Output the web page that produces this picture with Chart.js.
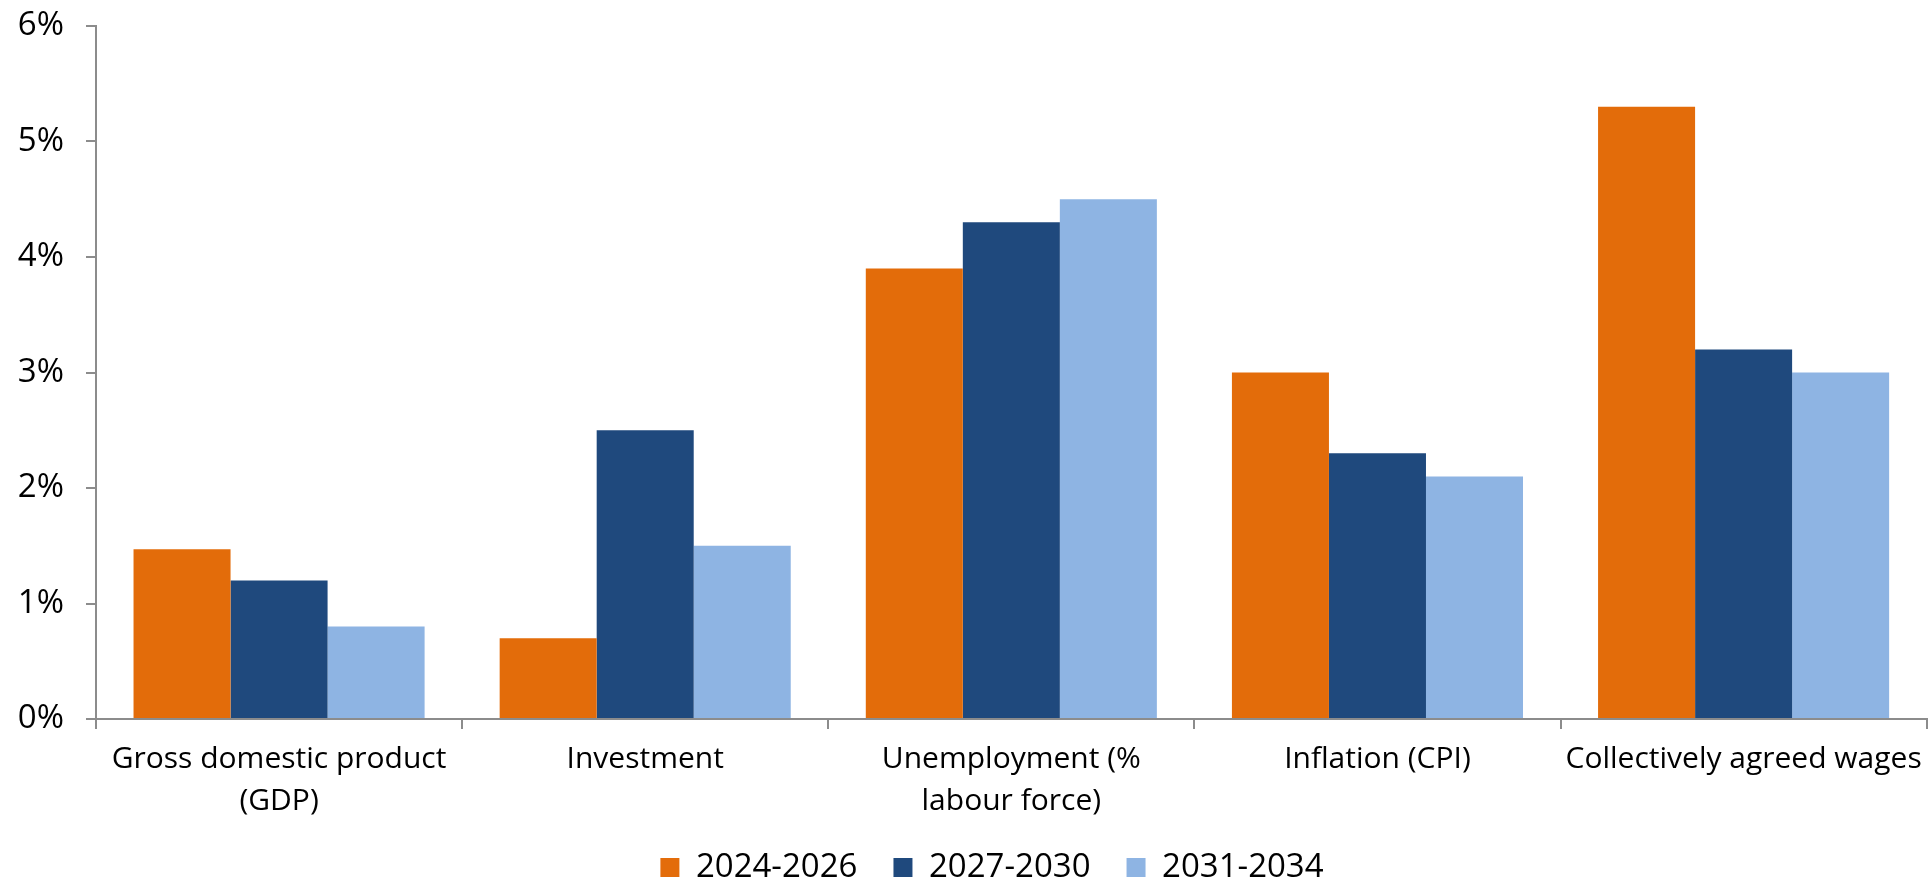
<!DOCTYPE html>
<html>
<head>
<meta charset="utf-8">
<script src="https://cdn.jsdelivr.net/npm/chart.js@4.4.1/dist/chart.umd.min.js"></script>
<style>
  html, body { margin: 0; padding: 0; background: #fff; }
  #wrap { width: 1931px; height: 881px; }
</style>
</head>
<body>
<div id="wrap"><canvas id="forecastChart" width="1931" height="881"></canvas></div>
<script>
const categories = [
  ['Gross domestic product', '(GDP)'],
  'Investment',
  ['Unemployment (%', 'labour force)'],
  'Inflation (CPI)',
  'Collectively agreed wages'
];
const seriesNames = ['2024-2026', '2027-2030', '2031-2034'];
const values2024 = [1.47, 0.7, 3.9, 3.0, 5.3];
const values2027 = [1.2, 2.5, 4.3, 2.3, 3.2];
const values2031 = [0.8, 1.5, 4.5, 2.1, 3.0];
const yTicks = [0, 1, 2, 3, 4, 5, 6];

const colors = ['#E36C0A', '#1F497D', '#8EB4E3'];
const axisColor = '#8c8c8c';
const fontFamily = '"Open Sans", "Noto Sans", sans-serif';

Chart.defaults.font.family = fontFamily;
Chart.defaults.color = '#000';

// legend sits low, just under the category labels
const legendPlacement = {
  id: 'legendPlacement',
  beforeInit(chart) {
    const origFit = chart.legend.fit;
    chart.legend.fit = function () {
      origFit.call(this);
      this.height = 57;
    };
  },
  afterLayout(chart) {
    const lg = chart.legend;
    lg.top -= 9;
    lg.left += 28;
    lg.right += 28;
  },
};

function drawChart() {
  const ctx = document.getElementById('forecastChart').getContext('2d');

  const chart = new Chart(ctx, {
    type: 'bar',
    data: {
      labels: categories,
      datasets: [values2024, values2027, values2031].map((vals, i) => ({
        label: seriesNames[i],
        data: vals,
        backgroundColor: colors[i],
        borderWidth: 0,
        barPercentage: 1.0,
        categoryPercentage: 0.795,
      })),
    },
    options: {
      responsive: false,
      animation: false,
      layout: {
        padding: { top: 0, right: 3, left: 0, bottom: 0 },
      },
      plugins: {
        tooltip: { enabled: false },
        legend: {
          position: 'bottom',
          labels: {
            boxWidth: 19,
            boxHeight: 19,
            padding: 36,
            font: { size: 33 },
            color: '#000',
          },
        },
      },
      scales: {
        x: {
          afterFit: (scale) => { scale.height = 105; },
          grid: {
            display: true,
            drawOnChartArea: false,
            drawTicks: true,
            tickLength: 10,
            color: axisColor,
            lineWidth: 2,
            offset: true,
          },
          border: { display: true, color: axisColor, width: 2 },
          ticks: {
            font: { size: 30, lineHeight: '42px' },
            color: '#000',
            padding: 9,
            maxRotation: 0,
            autoSkip: false,
          },
        },
        y: {
          min: 0,
          max: 6,
          afterFit: (scale) => {
            scale.width = 96;
            scale.paddingTop = 26;
            scale.paddingBottom = 0;
          },
          afterBuildTicks: (scale) => {
            scale.ticks = yTicks.map((v) => ({ value: v }));
          },
          grid: {
            display: true,
            drawOnChartArea: false,
            drawTicks: true,
            tickLength: 10,
            color: axisColor,
            lineWidth: 2,
          },
          border: { display: true, color: axisColor, width: 2 },
          ticks: {
            font: { size: 33 },
            color: '#000',
            padding: 22,
            callback: (v) => v + '%',
          },
        },
      },
    },
    plugins: [legendPlacement],
  });
  return chart;
}

drawChart();
</script>
</body>
</html>
